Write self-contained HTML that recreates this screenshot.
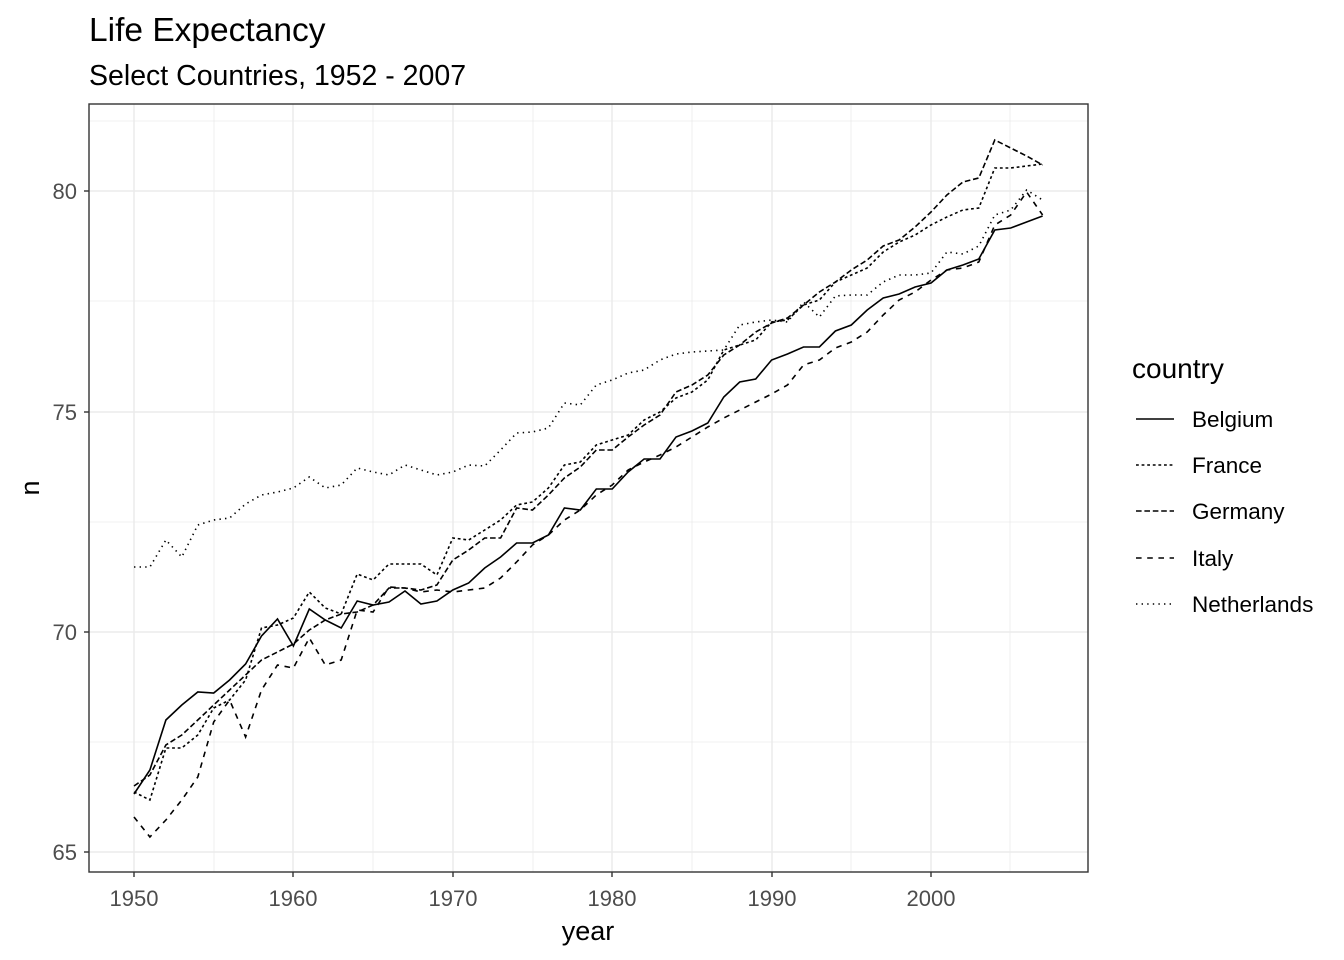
<!DOCTYPE html>
<html><head><meta charset="utf-8"><style>
html,body{margin:0;padding:0;background:#fff;}
svg{display:block;font-family:"Liberation Sans",Arial,sans-serif;}
</style></head><body>
<svg width="1344" height="960" viewBox="0 0 1344 960" xmlns="http://www.w3.org/2000/svg">
<rect width="1344" height="960" fill="#fff"/>
<text x="89" y="41" font-size="33.5" fill="#000">Life Expectancy</text>
<text x="89" y="85" font-size="28.5" fill="#000">Select Countries, 1952 - 2007</text>
<g stroke="#EBEBEB">
<g stroke-width="0.8">
<line x1="89" x2="1088" y1="742" y2="742"/><line x1="89" x2="1088" y1="522" y2="522"/><line x1="89" x2="1088" y1="301" y2="301"/><line x1="89" x2="1088" y1="121" y2="121"/>
<line y1="104" y2="872" x1="214" x2="214"/><line y1="104" y2="872" x1="373" x2="373"/><line y1="104" y2="872" x1="533" x2="533"/><line y1="104" y2="872" x1="692" x2="692"/><line y1="104" y2="872" x1="851" x2="851"/><line y1="104" y2="872" x1="1010" x2="1010"/>
</g>
<g stroke-width="1.5">
<line x1="89" x2="1088" y1="852" y2="852"/><line x1="89" x2="1088" y1="632" y2="632"/><line x1="89" x2="1088" y1="412" y2="412"/><line x1="89" x2="1088" y1="191" y2="191"/>
<line y1="104" y2="872" x1="134" x2="134"/><line y1="104" y2="872" x1="293" x2="293"/><line y1="104" y2="872" x1="453" x2="453"/><line y1="104" y2="872" x1="612" x2="612"/><line y1="104" y2="872" x1="772" x2="772"/><line y1="104" y2="872" x1="931" x2="931"/>
</g></g>
<g id="lines" fill="none" stroke="#000" stroke-width="1.6"></g>
<rect x="89" y="104" width="999" height="768" fill="none" stroke="#333" stroke-width="1.4"/>
<g stroke="#333" stroke-width="1.4">
<line x1="84" x2="89" y1="852" y2="852"/><line x1="84" x2="89" y1="632" y2="632"/><line x1="84" x2="89" y1="412" y2="412"/><line x1="84" x2="89" y1="191" y2="191"/>
<line y1="872" y2="877" x1="134" x2="134"/><line y1="872" y2="877" x1="293" x2="293"/><line y1="872" y2="877" x1="453" x2="453"/><line y1="872" y2="877" x1="612" x2="612"/><line y1="872" y2="877" x1="772" x2="772"/><line y1="872" y2="877" x1="931" x2="931"/>
</g>
<g font-size="22" fill="#4D4D4D" text-anchor="end">
<text x="77" y="860">65</text><text x="77" y="640">70</text><text x="77" y="420">75</text><text x="77" y="199">80</text>
</g>
<g font-size="22" fill="#4D4D4D" text-anchor="middle">
<text x="134" y="906">1950</text><text x="293" y="906">1960</text><text x="453" y="906">1970</text><text x="612" y="906">1980</text><text x="772" y="906">1990</text><text x="931" y="906">2000</text>
</g>
<text x="588" y="940" font-size="27" text-anchor="middle">year</text>
<text transform="translate(39,488) rotate(-90)" font-size="27" text-anchor="middle">n</text>
<text x="1132" y="378" font-size="28">country</text>
<g stroke="#000" stroke-width="1.6">
<line x1="1136" x2="1174" y1="419" y2="419"/>
<line x1="1136" x2="1174" y1="465" y2="465" stroke-dasharray="2.8 2.8"/>
<line x1="1136" x2="1174" y1="511" y2="511" stroke-dasharray="5.6 2.8"/>
<line x1="1136" x2="1174" y1="558" y2="558" stroke-dasharray="5.6 5.6"/>
<line x1="1136" x2="1174" y1="604" y2="604" stroke-dasharray="1.4 4.2"/>
</g>
<g font-size="22.5">
<text x="1192" y="427">Belgium</text><text x="1192" y="473">France</text><text x="1192" y="519">Germany</text><text x="1192" y="566">Italy</text><text x="1192" y="612">Netherlands</text>
</g>
<script>
const S={
b:[794,770,720,705,692,693,680,664,636,619,646,609,620,628,601,605,602,591,604,601,590,583,568,557,543,543,535,508,510,489,489,472,459,459,437,431,423,397,382,379,360,354,347,347,331,325,310,298,294,287,283,270,265,259,230,228,222,216],
f:[792,800,748,748,735,708,700,680,628,625,618,592,608,614,574,580,564,564,564,575,538,540,530,520,505,502,488,465,462,445,440,435,420,412,398,392,380,350,345,340,322,320,305,300,282,275,268,252,242,235,225,217,210,208,168,168,166,164],
g:[786,775,745,735,720,705,690,675,660,652,644,630,620,614,612,605,588,588,590,585,560,550,538,538,508,510,495,478,467,450,450,437,425,415,392,385,375,355,345,332,323,318,305,292,282,270,260,246,240,227,212,195,182,178,140,148,156,165],
i:[817,837,820,800,777,722,700,737,690,665,668,638,665,660,610,612,587,588,592,590,592,590,588,578,562,545,535,520,510,495,485,470,462,455,447,437,427,418,410,402,394,385,365,360,348,342,332,315,300,292,280,270,268,262,225,215,192,215],
n:[567,567,540,557,525,520,518,504,495,492,488,477,488,485,468,472,475,465,470,475,472,465,466,450,433,432,428,403,405,385,380,373,370,360,354,352,351,350,325,322,320,322,302,317,296,295,295,282,275,275,273,252,254,246,215,210,190,200]};
const D={b:"",f:"2.8 2.8",g:"5.6 2.8",i:"5.6 5.6",n:"1.4 4.2"};
const G=document.getElementById('lines');
for(const k in S){const p=document.createElementNS('http://www.w3.org/2000/svg','polyline');
p.setAttribute('points',S[k].map((y,j)=>(134+j*15.94).toFixed(1)+','+y).join(' '));
if(D[k])p.setAttribute('stroke-dasharray',D[k]);G.appendChild(p);}
</script>
</svg>
</body></html>
